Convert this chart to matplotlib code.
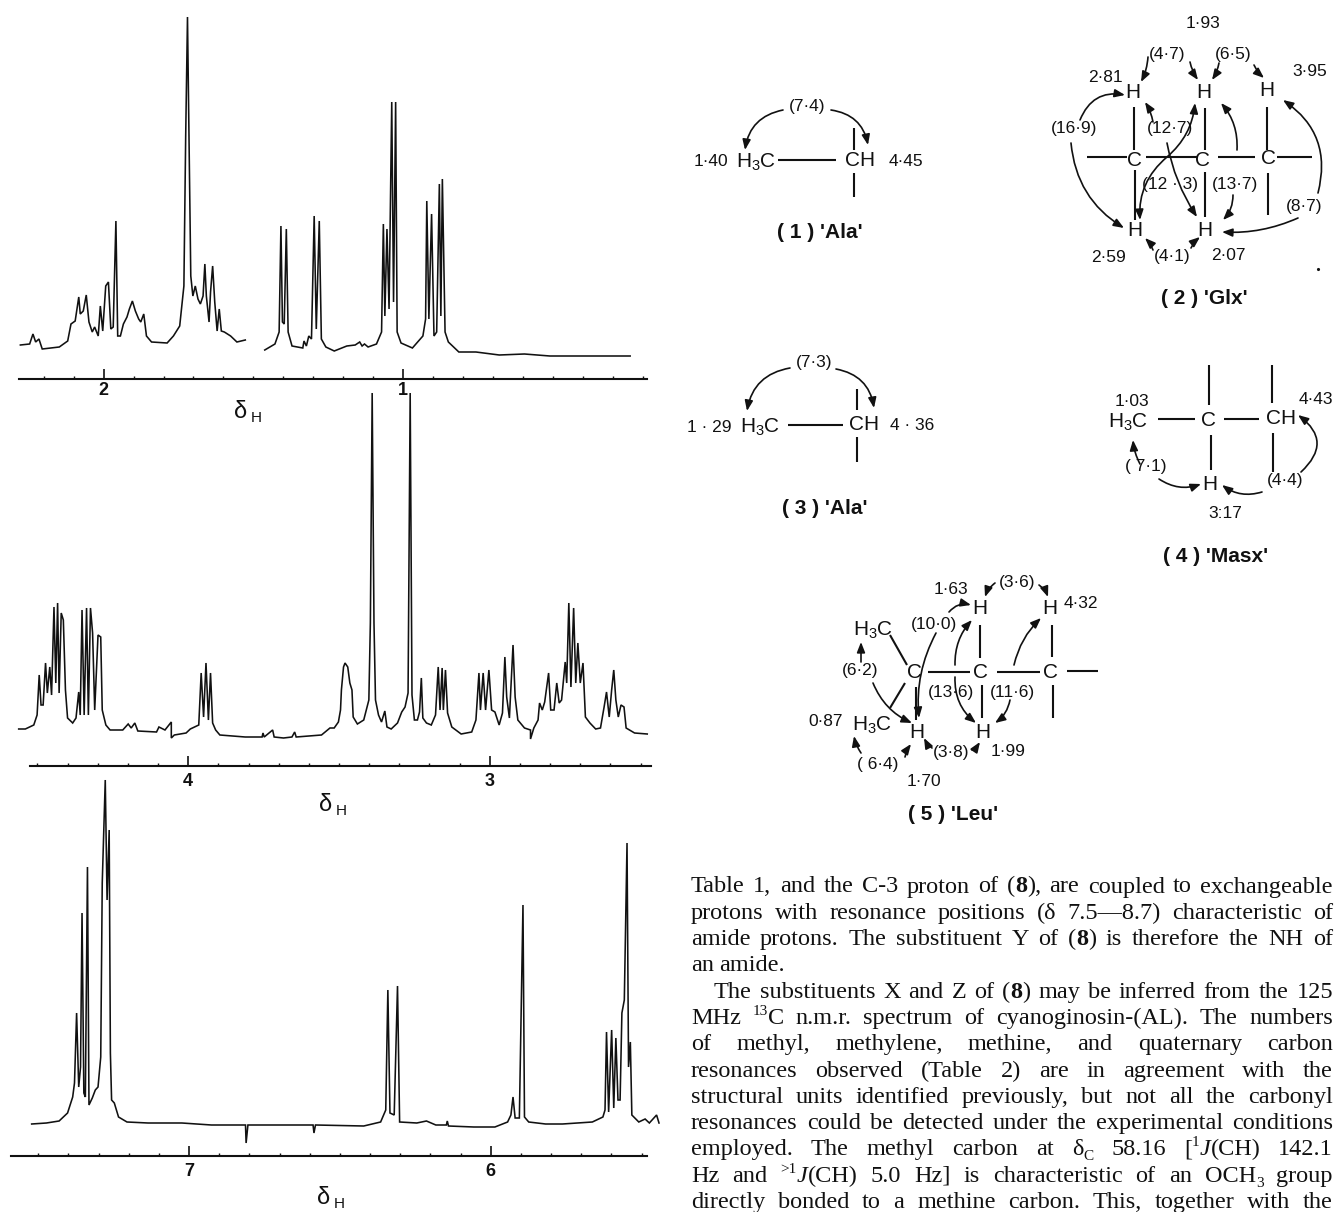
import re
import matplotlib
matplotlib.use("Agg")
import matplotlib.pyplot as plt
from matplotlib.patches import FancyArrowPatch

plt.rcParams["font.family"] = ["Liberation Sans", "DejaVu Sans"]
plt.rcParams["mathtext.default"] = "regular"

W, H = 1335, 1212
INK = "#111111"

# Spectrum 1 (delta 2.3 - 0.2), two pieces of trace
ppm_1a = [2.278, 2.247, 2.236, 2.227, 2.216, 2.205, 2.148, 2.120, 2.109, 2.095, 2.083, 2.078, 2.068, 2.058,
          2.049, 2.038, 2.030, 2.018, 2.011, 2.003, 1.993, 1.984, 1.976, 1.968, 1.959, 1.953, 1.944, 1.934,
          1.922, 1.914, 1.904, 1.894, 1.883, 1.876, 1.866, 1.857, 1.840, 1.788, 1.767, 1.746, 1.732, 1.726,
          1.720, 1.715, 1.709, 1.702, 1.694, 1.685, 1.677, 1.668, 1.662, 1.657, 1.648, 1.643, 1.636, 1.629,
          1.621, 1.614, 1.607, 1.597, 1.576, 1.555, 1.527]
int_1a = [34, 35, 45, 37, 40, 30, 32, 38, 55, 58, 82, 65, 68, 84,
          57, 47, 52, 43, 73, 48, 93, 97, 50, 52, 158, 43, 43, 55,
          62, 70, 78, 68, 60, 57, 65, 43, 37, 36, 43, 53, 93, 243,
          362, 243, 103, 83, 93, 80, 75, 83, 115, 83, 57, 87, 113, 77,
          48, 70, 48, 47, 43, 37, 39]
ppm_1b = [1.462, 1.428, 1.414, 1.408, 1.403, 1.397, 1.390, 1.384, 1.371, 1.335, 1.331, 1.323, 1.315, 1.306,
          1.297, 1.290, 1.280, 1.273, 1.258, 1.230, 1.188, 1.160, 1.145, 1.137, 1.129, 1.117, 1.089, 1.072,
          1.066, 1.061, 1.054, 1.047, 1.038, 1.032, 1.025, 1.020, 1.007, 0.969, 0.934, 0.925, 0.921, 0.914,
          0.905, 0.897, 0.888, 0.879, 0.874, 0.869, 0.860, 0.849, 0.814, 0.757, 0.679, 0.595, 0.510, 0.242]
int_1b = [29, 35, 47, 153, 57, 55, 150, 47, 33, 31, 38, 33, 43, 40,
          163, 50, 158, 40, 32, 28, 33, 34, 37, 33, 35, 32, 35, 47,
          155, 63, 150, 70, 277, 77, 277, 47, 36, 31, 43, 60, 178, 60,
          165, 43, 47, 195, 63, 200, 47, 37, 27, 27, 24, 25, 23, 23]

# Spectrum 2 (delta 4.5 - 2.5)
ppm_2 = [4.562, 4.540, 4.512, 4.501, 4.494, 4.488, 4.481, 4.473, 4.467, 4.459, 4.453, 4.445, 4.439, 4.433,
         4.428, 4.421, 4.414, 4.407, 4.400, 4.383, 4.372, 4.363, 4.358, 4.352, 4.345, 4.337, 4.331, 4.324,
         4.317, 4.310, 4.299, 4.290, 4.285, 4.273, 4.259, 4.217, 4.199, 4.189, 4.177, 4.167, 4.105, 4.097,
         4.077, 4.056, 4.056, 4.046, 4.007, 3.993, 3.965, 3.957, 3.949, 3.941, 3.933, 3.926, 3.919, 3.909,
         3.895, 3.811, 3.755, 3.752, 3.748, 3.720, 3.715, 3.684, 3.656, 3.647, 3.642, 3.558, 3.530, 3.516,
         3.502, 3.495, 3.492, 3.485, 3.480, 3.471, 3.464, 3.457, 3.453, 3.439, 3.418, 3.401, 3.396, 3.390,
         3.384, 3.379, 3.369, 3.359, 3.348, 3.341, 3.327, 3.306, 3.292, 3.281, 3.271, 3.264, 3.258, 3.250,
         3.240, 3.233, 3.227, 3.222, 3.210, 3.194, 3.180, 3.171, 3.165, 3.158, 3.154, 3.147, 3.140, 3.126,
         3.095, 3.060, 3.046, 3.036, 3.031, 3.022, 3.014, 3.003, 2.994, 2.983, 2.969, 2.958, 2.950, 2.944,
         2.935, 2.923, 2.916, 2.907, 2.885, 2.865, 2.865, 2.854, 2.840, 2.835, 2.826, 2.818, 2.805, 2.798,
         2.787, 2.778, 2.770, 2.762, 2.750, 2.745, 2.738, 2.731, 2.722, 2.715, 2.708, 2.700, 2.691, 2.683,
         2.668, 2.649, 2.633, 2.621, 2.613, 2.604, 2.596, 2.589, 2.582, 2.574, 2.565, 2.555, 2.548, 2.520,
         2.478]
int_2 = [37, 37, 41, 51, 91, 61, 61, 103, 73, 99, 71, 159, 83, 163,
         73, 153, 146, 76, 48, 43, 48, 74, 51, 156, 51, 158, 51, 158,
         133, 56, 131, 129, 56, 41, 36, 36, 42, 38, 43, 35, 34, 39,
         36, 44, 28, 31, 33, 37, 41, 93, 49, 103, 46, 93, 43, 36,
         31, 29, 29, 33, 29, 36, 29, 28, 29, 34, 29, 31, 38, 38,
         44, 56, 76, 99, 103, 99, 83, 76, 49, 42, 46, 66, 143, 373,
         143, 66, 51, 44, 55, 39, 37, 43, 54, 59, 73, 373, 71, 46,
         46, 54, 88, 48, 43, 41, 51, 99, 56, 98, 56, 96, 53, 39,
         32, 34, 46, 93, 56, 93, 56, 96, 56, 54, 41, 53, 109, 69,
         48, 121, 69, 46, 38, 36, 27, 38, 46, 63, 56, 64, 93, 56,
         56, 83, 63, 66, 104, 83, 163, 79, 158, 83, 123, 83, 103, 49,
         43, 37, 38, 59, 74, 49, 76, 96, 66, 49, 61, 59, 38, 33,
         32]

# Spectrum 3 (delta 7.5 - 5.5)
ppm_3 = [7.522, 7.473, 7.431, 7.403, 7.386, 7.380, 7.373, 7.366, 7.360, 7.355, 7.349, 7.344, 7.337, 7.332,
         7.321, 7.311, 7.302, 7.293, 7.288, 7.278, 7.272, 7.265, 7.261, 7.257, 7.248, 7.234, 7.206, 7.136,
         7.024, 6.926, 6.813, 6.811, 6.805, 6.679, 6.589, 6.586, 6.581, 6.421, 6.365, 6.348, 6.341, 6.334,
         6.320, 6.309, 6.302, 6.245, 6.213, 6.182, 6.147, 6.144, 6.140, 6.056, 5.986, 5.944, 5.933, 5.926,
         5.919, 5.905, 5.893, 5.888, 5.874, 5.818, 5.762, 5.663, 5.628, 5.621, 5.616, 5.609, 5.599, 5.592,
         5.585, 5.578, 5.571, 5.565, 5.557, 5.548, 5.543, 5.537, 5.532, 5.509, 5.488, 5.474, 5.450, 5.442]
int_3 = [32, 33, 35, 43, 59, 73, 143, 69, 89, 243, 63, 59, 289, 51,
         58, 66, 69, 99, 273, 376, 256, 326, 103, 56, 53, 39, 34, 33,
         33, 31, 31, 13, 31, 31, 31, 23, 31, 30, 34, 46, 166, 43,
         41, 170, 34, 33, 35, 31, 31, 35, 30, 29, 29, 34, 41, 59,
         38, 38, 251, 39, 34, 32, 32, 34, 39, 46, 124, 44, 126, 48,
         118, 56, 56, 143, 156, 313, 89, 114, 41, 34, 37, 33, 41, 33]

major_ticks = [[2, 1], [4, 3], [7, 6]]
minor_step = 0.1

# Structures drawn on top of the page, in page pixels
small_labels = [
    (807, 107, "(7·4)"), (711, 162, "1·40"), (906, 161, "4·45"),
    (1203, 23, "1·93"), (1167, 54, "(4·7)"), (1233, 54, "(6·5)"), (1105, 77, "2·81"), (1310, 71, "3·95"),
    (1074, 129, "(16·9)"), (1170, 128, "(12·7)"), (1170, 185, "(12 · 3)"), (1235, 184, "(13·7)"),
    (1304, 207, "(8·7)"), (1172, 256, "(4·1)"), (1109, 257, "2·59"), (1228, 256, "2·07"),
    (814, 362, "(7·3)"), (709, 428, "1 · 29"), (912, 426, "4 · 36"),
    (1132, 401, "1·03"), (1316, 400, "4·43"), (1146, 467, "( 7·1)"), (1285, 480, "(4·4)"), (1225, 513, "3:17"),
    (951, 589, "1·63"), (1017, 583, "(3·6)"), (1081, 603, "4·32"), (934, 624, "(10·0)"), (860, 671, "(6·2)"),
    (951, 693, "(13·6)"), (1012, 692, "(11·6)"), (826, 722, "0·87"), (1008, 752, "1·99"), (951, 753, "(3·8)"),
    (878, 764, "( 6·4)"), (924, 782, "1·70"),
]
atom_labels = [
    (756, 162, "H$_3$C"), (860, 161, "CH"),
    (1133, 93, "H"), (1204, 93, "H"), (1267, 90, "H"), (1134, 160, "C"), (1203, 160, "C"), (1268, 158, "C"),
    (1135, 231, "H"), (1205, 231, "H"),
    (760, 427, "H$_3$C"), (864, 425, "CH"),
    (1128, 422, "H$_3$C"), (1209, 420, "C"), (1281, 419, "CH"), (1210, 484, "H"),
    (980, 609, "H"), (1050, 608, "H"), (873, 630, "H$_3$C"), (914, 673, "C"), (980, 673, "C"), (1050, 673, "C"),
    (872, 725, "H$_3$C"), (917, 733, "H"), (983, 733, "H"),
]
captions = [
    (820, 233, "( 1 ) 'Ala'"), (1204, 299, "( 2 ) 'Glx'"), (825, 508, "( 3 ) 'Ala'"),
    (1216, 557, "( 4 ) 'Masx'"), (953, 814, "( 5 ) 'Leu'"),
]
bonds = [
    (778, 160, 836, 160), (854, 128, 854, 150), (854, 173, 854, 197),
    (1134, 107, 1134, 150), (1205, 108, 1205, 150), (1267, 107, 1267, 150),
    (1135, 170, 1135, 220), (1205, 172, 1205, 217), (1268, 173, 1268, 215),
    (1087, 157, 1127, 157), (1146, 157, 1197, 157), (1218, 157, 1255, 157), (1277, 157, 1312, 157),
    (788, 425, 843, 425), (857, 389, 857, 410), (857, 437, 857, 462),
    (1158, 419, 1195, 419), (1224, 419, 1259, 419), (1209, 365, 1209, 405), (1272, 365, 1272, 403),
    (1211, 435, 1211, 470), (1273, 433, 1273, 472),
    (928, 672, 970, 672), (997, 672, 1040, 672), (1067, 671, 1098, 671),
    (980, 625, 980, 658), (1052, 625, 1052, 657), (916, 687, 916, 720), (982, 685, 982, 718), (1053, 685, 1053, 718),
    (890, 635, 907, 665), (905, 683, 890, 708),
]
arrows = [
    (783, 110, 745, 150, 0.35), (831, 110, 868, 145, -0.35),
    (1148, 57, 1141, 82, -0.1), (1190, 62, 1198, 80, 0.1), (1219, 63, 1212, 80, -0.1), (1254, 65, 1264, 78, 0.1),
    (1080, 120, 1125, 95, -0.4), (1071, 143, 1124, 228, 0.25),
    (1153, 122, 1145, 102, 0.1), (1167, 143, 1197, 217, 0.1), (1167, 157, 1195, 103, 0.2),
    (1167, 157, 1140, 220, 0.25), (1237, 150, 1221, 103, 0.2), (1233, 195, 1223, 220, -0.2),
    (1318, 193, 1283, 100, 0.35), (1298, 218, 1222, 232, -0.12),
    (1153, 250, 1145, 238, 0.1), (1191, 248, 1200, 237, -0.1),
    (790, 368, 747, 411, 0.35), (836, 369, 874, 408, -0.35),
    (1140, 464, 1133, 440, -0.1), (1159, 479, 1201, 484, 0.25), (1262, 492, 1222, 485, -0.25),
    (1301, 472, 1298, 415, 0.6),
    (949, 612, 971, 605, -0.3), (936, 633, 919, 718, 0.15), (955, 665, 972, 620, -0.2),
    (955, 677, 976, 723, 0.25), (1014, 665, 1041, 618, -0.15), (1010, 700, 995, 723, -0.2),
    (995, 583, 985, 597, 0.15), (1039, 585, 1048, 597, -0.15),
    (861, 662, 861, 642, 0), (873, 683, 912, 723, 0.2), (861, 753, 854, 736, -0.1), (905, 757, 911, 744, -0.1),
    (932, 748, 924, 738, -0.1), (972, 750, 980, 742, 0.1),
]

# Running text, markup: <b> bold, <i> italic, <u> superscript, <d> subscript
text_lines = [
    "Table 1, and the C-3 proton of (<b>8</b>), are coupled to exchangeable",
    "protons with resonance positions (δ 7.5—8.7) characteristic of",
    "amide protons. The substituent Y of (<b>8</b>) is therefore the NH of",
    "an amide.",
    "The substituents X and Z of (<b>8</b>) may be inferred from the 125",
    "MHz <u>13</u>C n.m.r. spectrum of cyanoginosin-(AL). The numbers",
    "of methyl, methylene, methine, and quaternary carbon",
    "resonances observed (Table 2) are in agreement with the",
    "structural units identified previously, but not all the carbonyl",
    "resonances could be detected under the experimental conditions",
    "employed. The methyl carbon at δ<d>C</d> 58.16 [<u>1</u><i>J</i>(CH) 142.1",
    "Hz and <u>>1</u><i>J</i>(CH) 5.0 Hz] is characteristic of an OCH<d>3</d> group",
    "directly bonded to a methine carbon. This, together with the",
]
short_lines = [3]
indented_lines = [4]

fig = plt.figure(figsize=(W / 100, H / 100), dpi=100, facecolor="white")


def spectrum(traces, ticks, ppm_0, per_ppm, axis_y, height, bound_l, bound_r, pad):
    # ppm_0 is the value at the left page edge, per_ppm the page pixels per ppm unit
    ax = fig.add_axes([0, 1 - axis_y / H, 660 / W, height / H])
    ax.patch.set_alpha(0)
    ax.set_xlim(ppm_0, ppm_0 - 660 / per_ppm)
    ax.set_ylim(0, height)
    for x, y in traces:
        ax.plot(x, y, color=INK, lw=1.15, clip_on=False, solid_joinstyle="miter")
    for s in ["top", "left", "right"]:
        ax.spines[s].set_visible(False)
    ax.spines["bottom"].set_bounds(bound_l, bound_r)
    ax.spines["bottom"].set_linewidth(1.5)
    ax.spines["bottom"].set_color(INK)
    ax.set_yticks([])
    ax.set_xticks(ticks)
    ax.set_xticklabels([str(t) for t in ticks], fontsize=13, fontweight="bold", color=INK)
    ax.tick_params(axis="x", direction="in", length=7, width=1.2, pad=pad, color=INK)
    minor = []
    v = bound_r
    while v < bound_l:
        minor.append(round(v, 1))
        v += minor_step
    ax.set_xticks([m for m in minor if bound_r < m < bound_l], minor=True)
    ax.tick_params(axis="x", which="minor", direction="in", length=2, width=1, color=INK)
    return ax


spectrum([(ppm_1a, int_1a), (ppm_1b, int_1b)], major_ticks[0], 2.346, 299.5, 379, 379, 2.282, 0.185, 2)
spectrum([(ppm_2, int_2)], major_ticks[1], 4.624, 301.6, 766, 376, 4.523, 2.464, 5)
spectrum([(ppm_3, int_3)], major_ticks[2], 7.627, 301.6, 1156, 380, 7.592, 5.481, 5)

page = fig.add_axes([0, 0, 1, 1], zorder=5)
page.patch.set_alpha(0)
page.set_xlim(0, W)
page.set_ylim(H, 0)
page.axis("off")

for x, y in [(241, 412), (326, 805), (324, 1198)]:
    page.text(x, y, "δ", fontsize=17, ha="center", va="center", color=INK)
    page.text(x + 15, y + 6, "H", fontsize=11, ha="center", va="center", color=INK)

for x, y, s in small_labels:
    page.text(x, y, s, fontsize=12.5, ha="center", va="center", color=INK)
for x, y, s in atom_labels:
    page.text(x, y, s, fontsize=15, ha="center", va="center", color=INK)
for x, y, s in captions:
    page.text(x, y, s, fontsize=15, fontweight="bold", ha="center", va="center", color=INK)
for x0, y0, x1, y1 in bonds:
    page.plot([x0, x1], [y0, y1], color=INK, lw=1.5, solid_capstyle="butt")
for x0, y0, x1, y1, rad in arrows:
    page.add_patch(FancyArrowPatch((x0, y0), (x1, y1), connectionstyle=f"arc3,rad={rad}",
                                   arrowstyle="-|>,head_length=2.8,head_width=1.1", lw=1.2,
                                   color=INK, shrinkA=0, shrinkB=0, mutation_scale=2.2))
page.plot([1318], [269], ".", color=INK, ms=2.5)


def parse_word(word):
    pieces = []
    for tag, inner, plain in re.findall(r"<([biud])>(.*?)</\1>|([^<]+)", word):
        pieces.append((tag, inner if tag else plain))
    return pieces


def piece_style(tag):
    style = {"fontfamily": "Liberation Serif", "fontsize": 17.5, "color": INK}
    rise = 0
    if tag == "b":
        style["fontweight"] = "bold"
    elif tag == "i":
        style["fontstyle"] = "italic"
    elif tag == "u":
        style["fontsize"] = 11
        rise = -9
    elif tag == "d":
        style["fontsize"] = 11
        rise = 5
    return style, rise


renderer = fig.canvas.get_renderer()


def measure(pieces):
    total = 0
    for tag, s in pieces:
        style, _ = piece_style(tag)
        t = page.text(0, 0, s, **style)
        total += t.get_window_extent(renderer).width
        t.remove()
    return total


left, right = 691, 1333
line_y = 892.5
for i, line in enumerate(text_lines):
    words = [parse_word(w) for w in line.split(" ")]
    widths = [measure(w) for w in words]
    start = left + (23 if i in indented_lines else 0)
    gap = 5.5 if i in short_lines else (right - start - sum(widths)) / (len(words) - 1)
    x = start
    for w, width in zip(words, widths):
        cx = x
        for tag, s in w:
            style, rise = piece_style(tag)
            t = page.text(cx, line_y + rise, s, ha="left", va="baseline", **style)
            cx += t.get_window_extent(renderer).width
        x += width + gap
    line_y += 26.3

fig.savefig("out.png", dpi=100, facecolor="white")
